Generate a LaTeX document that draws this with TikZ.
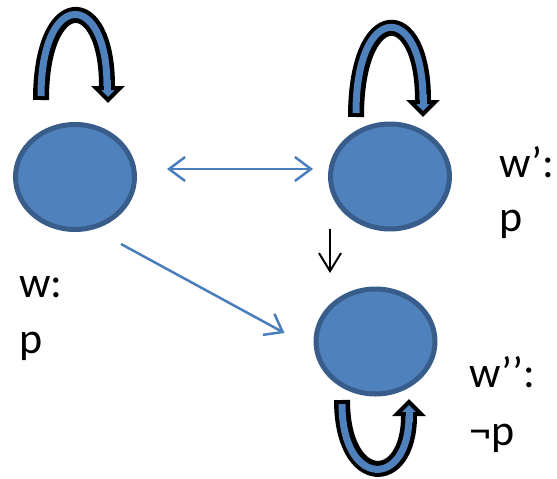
\documentclass[tikz,border=0pt]{standalone}
\usepackage{fontspec}
\setmainfont{Carlito}
\usetikzlibrary{shapes.geometric,arrows.meta,calc}
\definecolor{ellfill}{HTML}{4F81BD}
\definecolor{elldraw}{HTML}{385D8A}
\definecolor{arrblue}{HTML}{4A7EBB}
\tikzset{
  world/.style={ellipse, fill=ellfill, draw=elldraw, line width=5pt, minimum width=119pt, minimum height=105pt, inner sep=0pt},
  lab/.style={anchor=base west, inner sep=0pt, font=\fontsize{44}{53}\selectfont},
  relarrow/.style={draw=arrblue, line width=2.5pt, -{Straight Barb[length=16pt,width=24pt]}},
  loopout/.style={draw=black, line width=16pt},
  loopin/.style={draw=ellfill, line width=7pt},
  loophead/.style={draw=black, fill=ellfill, line width=4pt, line join=miter}
}
\begin{document}
\begin{tikzpicture}[x=1pt,y=-1pt]
\useasboundingbox (0,0) rectangle (557,479);
% worlds
\node[world] (e1) at (75,177) {};
\node[world] (e2) at (390,176.5) {};
\node[world] (e3) at (375.5,341.5) {};
% labels
\node[lab] (l1a) at (19,297) {w:};
\node[lab] (l1b) at (19,353) {p};
\node[lab] (l2a) at (499,177) {w’:};
\node[lab] (l2b) at (499,231) {p};
\node[lab] (l3a) at (469,387) {w’’:};
\node[lab] (l3b) at (469,445) {¬p};
% relations
\draw[relarrow, {Straight Barb[length=16pt,width=24pt]}-{Straight Barb[length=16pt,width=24pt]}]
  ($(e1)+(92,-8)$) coordinate (d1) -- ($(e2)+(-77,-7.5)$) coordinate (d2);
\draw[relarrow] ($(e1)+(46,67)$) coordinate (g1) -- ($(e3)+(-91,-8.5)$) coordinate (g2);
\draw[black, line width=2pt, -{Straight Barb[length=18pt,width=22pt]}]
  ($(e2)+(-60,52.5)$) coordinate (b1) -- ($(e3)+(-45.5,-68.5)$) coordinate (b2);
% loop on w
\draw[loopout] (41,100) .. controls (41,-11) and (107,-11) .. (107,86);
\draw[loophead] (96,88) -- (120,88) -- (108,100) -- cycle;
\draw[loopin, shorten <=4pt] (41,100) .. controls (41,-11) and (107,-11) .. (107,86);
\draw[loopin] (107,80) -- (107,91);
% loop on w'
\draw[loopout] (356,117) .. controls (356,1) and (423,1) .. (423,100);
\draw[loophead] (411,102) -- (435,102) -- (423,114) -- cycle;
\draw[loopin, shorten <=4pt] (356,117) .. controls (356,1) and (423,1) .. (423,100);
\draw[loopin] (423,94) -- (423,105);
% loop on w''
\draw[loopout] (342,400) .. controls (342,489) and (409,489) .. (409,416);
\draw[loophead] (397,414) -- (421,414) -- (409,402) -- cycle;
\draw[loopin, shorten <=4pt] (342,400) .. controls (342,489) and (409,489) .. (409,416);
\draw[loopin] (409,422) -- (409,411);
\end{tikzpicture}
\end{document}
